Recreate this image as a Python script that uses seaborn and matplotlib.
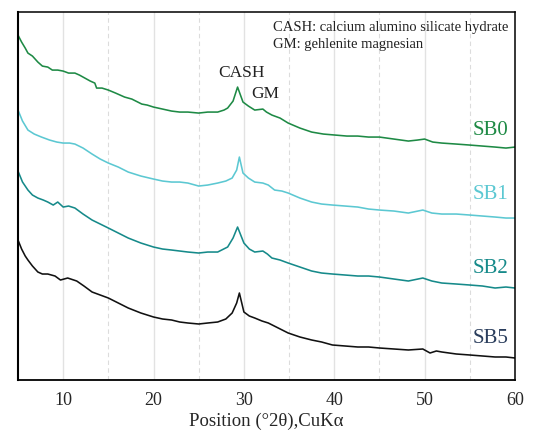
import matplotlib
matplotlib.use("Agg")
import matplotlib.pyplot as plt
import seaborn as sns
import pandas as pd

# 2-theta positions (deg) and intensities (a.u.)
sb0_x = [5, 5.4, 5.8, 6.1, 6.6, 7.2, 7.7, 8.3, 8.8, 9.4, 10, 10.6, 11.3, 11.8, 12.4, 13.0, 13.5, 13.7, 14.3, 15,
         15.8, 16.8, 17.6, 18.7, 19.3, 20, 21, 22, 22.9, 23.8, 25, 26, 27.1, 27.8, 28.2, 28.8, 29.3, 29.9,
         30.5, 31.2, 32.1, 32.5, 33.1, 34.0, 34.9, 36.2, 37.5, 38.8, 40.1, 41.4, 42.6, 43.8, 45, 46.6, 48.2,
         49.2, 50, 50.9, 51.9, 53.5, 55, 56.4, 57.8, 59, 60]
sb0_y = [345, 338, 332, 327, 324, 318, 314, 313, 310, 310, 309, 307, 307, 305, 302, 299, 297, 292, 292, 290,
         287, 283, 281, 276, 275, 273, 271, 269, 268, 268, 267, 268, 268, 270, 272, 279, 293, 278,
         274, 270, 271, 268, 265, 262, 257, 252, 248, 246, 245, 244, 244, 243, 243, 241, 239,
         240, 241, 238, 237, 236, 235, 234, 233, 232, 233]

sb1_x = [5, 5.5, 6.1, 6.8, 7.6, 8.5, 9.3, 10, 10.7, 11.3, 12.2, 13.2, 14.1, 15, 16.1, 17.2, 18.6, 20, 21,
         22, 22.9, 23.8, 25, 26, 27.1, 28.0, 28.7, 29.2, 29.5, 29.9, 30.5, 31.2, 32.1, 32.7, 33.4, 34.2,
         34.9, 36.2, 37.5, 38.6, 39.8, 41.2, 42.6, 43.8, 45, 46.6, 48.2, 49.8, 50.8, 51.9, 53.5, 55, 56.4,
         57.8, 59, 60]
sb1_y = [270, 259, 250, 246, 243, 240, 238, 237, 237, 236, 232, 226, 221, 217, 213, 208, 204, 201, 199,
         198, 198, 197, 194, 195, 197, 199, 202, 210, 223, 207, 202, 198, 197, 195, 190, 189,
         187, 182, 178, 176, 175, 174, 173, 171, 170, 169, 167, 170, 167, 166, 166, 165, 164,
         163, 162, 162]

sb2_x = [5, 5.5, 6.1, 6.6, 7.2, 7.8, 8.3, 8.9, 9.4, 10, 10.6, 11.3, 12.2, 13.2, 14.1, 15, 16.1, 17.2,
         18.6, 20, 21, 22, 22.9, 23.8, 25, 26, 27.1, 28.2, 28.8, 29.3, 30, 30.6, 31.2, 32.1, 32.6, 33.1,
         34.0, 34.9, 36.2, 37.5, 38.6, 39.8, 41.2, 42.6, 43.8, 45, 46.6, 48.2, 49.8, 50.8, 51.9, 53.5,
         55, 56.4, 57.8, 59, 60]
sb2_y = [209, 198, 190, 185, 182, 180, 178, 175, 178, 173, 174, 172, 166, 160, 156, 152, 147, 142,
         137, 133, 131, 130, 129, 128, 127, 128, 128, 133, 142, 153, 137, 131, 128, 129, 126, 122,
         120, 117, 113, 109, 107, 106, 105, 104, 104, 103, 101, 99, 102, 99, 97, 96,
         95, 94, 92, 93, 92]

sb5_x = [5, 5.4, 5.8, 6.1, 6.6, 7.2, 7.7, 8.3, 9.1, 9.7, 10.5, 11.5, 12.3, 13.2, 14.1, 15, 16.1, 17.2,
         18.6, 20, 21, 22, 22.9, 23.8, 25, 26, 27.1, 28.0, 28.7, 29.2, 29.5, 30, 30.6, 31.2, 32.0, 32.7,
         33.8, 34.9, 36.2, 37.5, 38.6, 39.8, 41.2, 42.6, 43.8, 45, 46.6, 48.2, 49.8, 50.6, 51.3, 51.9,
         53.5, 55, 56.4, 57.8, 59, 60]
sb5_y = [140, 131, 124, 120, 114, 108, 106, 106, 104, 100, 102, 99, 94, 88, 85, 82, 77, 72,
         67, 63, 61, 60, 58, 57, 56, 57, 58, 61, 67, 77, 87, 68, 64, 62, 59, 57,
         52, 47, 43, 40, 38, 35, 34, 33, 33, 32, 31, 30, 31, 27, 29, 28,
         26, 25, 24, 23, 23, 22]

series_names = ["SB0", "SB1", "SB2", "SB5"]
line_colors = ["#1e8a45", "#5cc8d2", "#168a8a", "#111111"]
label_colors = ["#1e8a45", "#5cc8d2", "#168a8a", "#2a3d5c"]
label_y = [250, 186, 112, 41]

xticks = [10, 20, 30, 40, 50, 60]
minor_ticks = [5, 15, 25, 35, 45, 55]

frames = []
for name, xs, ys in zip(series_names, [sb0_x, sb1_x, sb2_x, sb5_x], [sb0_y, sb1_y, sb2_y, sb5_y]):
    frames.append(pd.DataFrame({"pos": xs, "inten": ys, "sample": name}))
df = pd.concat(frames, ignore_index=True)

sns.set_style("white")
plt.rcParams["font.family"] = ["Liberation Serif", "DejaVu Serif"]

fig = plt.figure(figsize=(5.37, 4.32), dpi=100)
ax = fig.add_axes([0.0335, 0.1204, 0.9255, 0.8516])

sns.lineplot(data=df, x="pos", y="inten", hue="sample", palette=dict(zip(series_names, line_colors)),
             linewidth=1.15, legend=False, ax=ax, sort=False, estimator=None)

ax.set_xlim(5, 60)
ax.set_ylim(0, 368)
ax.set_yticks([])
ax.set_xticks(xticks)
ax.set_xticks(minor_ticks, minor=True)
ax.set_xticklabels([str(t) for t in xticks], fontsize=13)
ax.tick_params(axis="x", which="major", direction="out", length=5, width=1, color="black", pad=4)
ax.tick_params(axis="x", which="minor", direction="out", length=5, width=1, color="black")
ax.grid(False)
for t in xticks[:-1]:
    ax.axvline(t, color="#e2e2e2", lw=1.0, zorder=0)
for t in minor_ticks[1:]:
    ax.axvline(t, color="#dcdcdc", lw=0.8, ls=(0, (4, 3)), zorder=0)

for sp in ax.spines.values():
    sp.set_visible(True)
    sp.set_color("black")
    sp.set_linewidth(1.1)
ax.spines["left"].set_linewidth(1.5)
ax.spines["bottom"].set_linewidth(1.3)

ax.set_xlabel("Position (°2θ),CuKα", fontsize=13.5, labelpad=2)
ax.set_ylabel("")

for name, c, yv in zip(series_names, label_colors, label_y):
    ax.text(59.3, yv, name, color=c, fontsize=15, ha="right", va="center")

ax.text(29.7, 307, "CASH", fontsize=12.5, ha="center", va="center", color="#222222")
ax.text(32.4, 286, "GM", fontsize=12.5, ha="center", va="center", color="#222222")

ax.text(0.513, 0.977, "CASH: calcium alumino silicate hydrate\nGM: gehlenite magnesian",
        transform=ax.transAxes, fontsize=10.5, ha="left", va="top", linespacing=1.4, color="#222222")

fig.savefig("out.png", dpi=100)
